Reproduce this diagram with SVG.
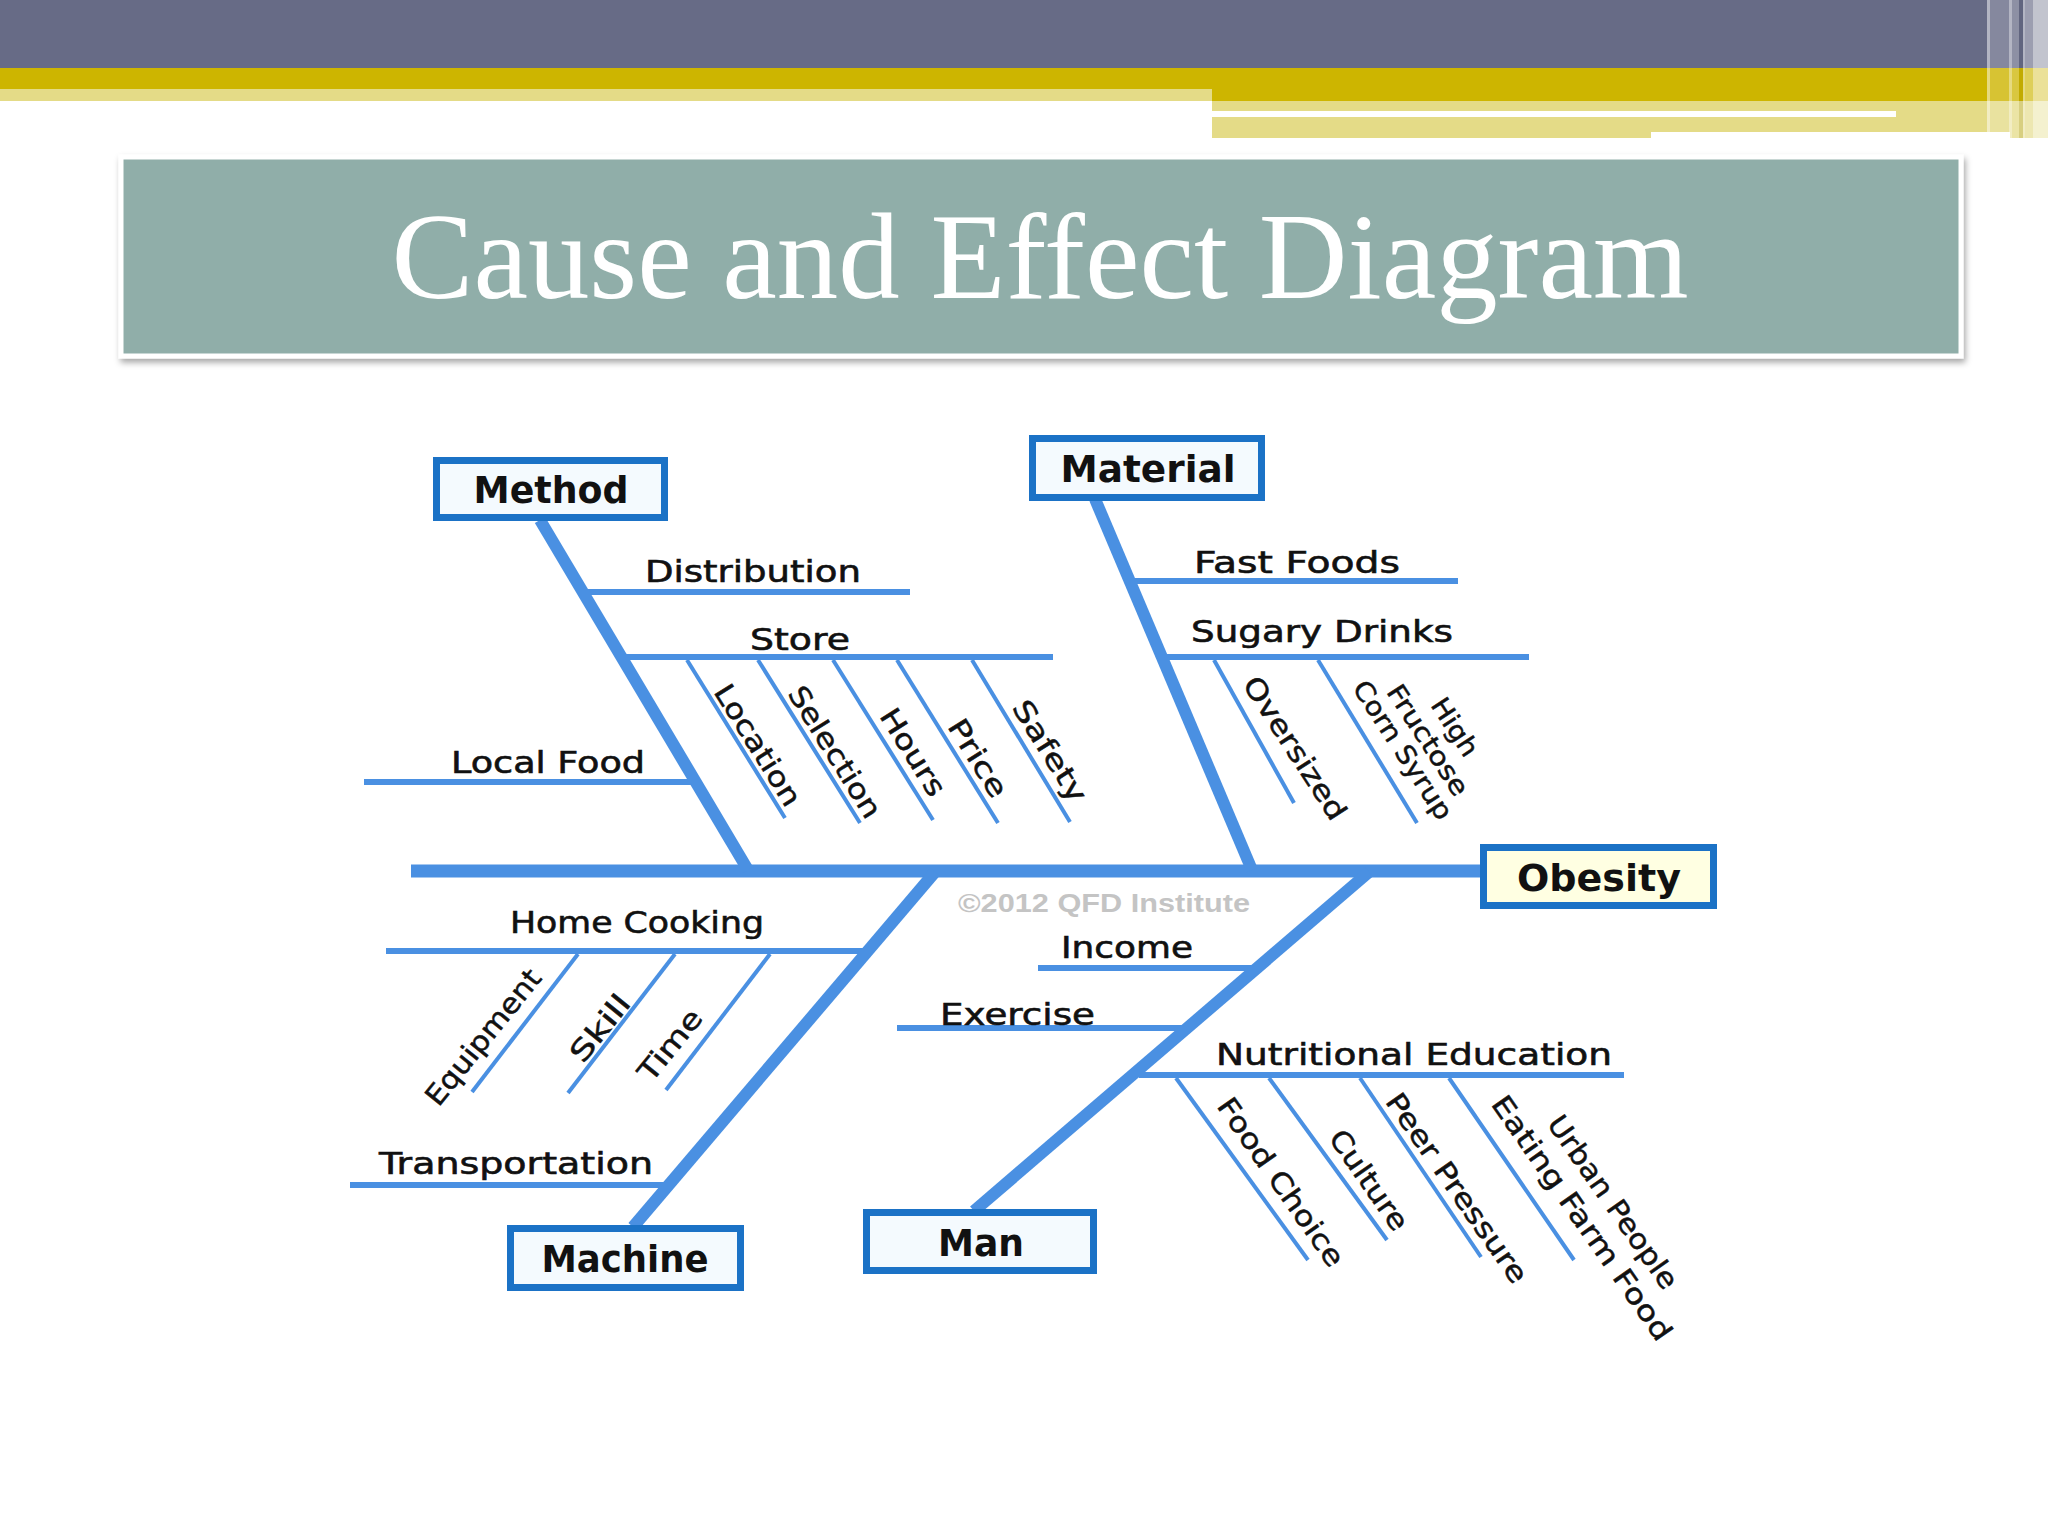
<svg xmlns="http://www.w3.org/2000/svg" width="2048" height="1536" viewBox="0 0 2048 1536">
<defs>
<style>
.bone{stroke:#4A90E2;fill:none;stroke-linecap:butt}
.spine{stroke-width:13}
.main{stroke-width:12}
.sub{stroke-width:6}
.twig{stroke-width:4}
.box{fill:#F4FAFE;stroke:#1B72C6;stroke-width:7}
.boxy{fill:#FFFFE2;stroke:#1B72C6;stroke-width:7}
.bl{font-family:"DejaVu Sans","Liberation Sans",sans-serif;font-weight:bold;font-size:38px;fill:#111;text-anchor:middle}
.l{font-family:"DejaVu Sans","Liberation Sans",sans-serif;font-size:30px;fill:#111;stroke:#111;stroke-width:0.6}
.r{font-family:"DejaVu Sans","Liberation Sans",sans-serif;font-size:28px;fill:#111;stroke:#111;stroke-width:0.5;text-anchor:middle}
.rs{font-size:26px}
</style>
<filter id="sh" x="-5%" y="-20%" width="110%" height="140%">
<feDropShadow dx="2" dy="4" stdDeviation="3" flood-color="#000" flood-opacity="0.35"/>
</filter>
</defs>
<rect width="2048" height="1536" fill="#FFFFFF"/>
<g id="header">
<rect x="0" y="0" width="2048" height="68" fill="#676B86"/>
<rect x="0" y="68" width="2048" height="21" fill="#CDB500"/>
<rect x="0" y="89" width="1212" height="12" fill="#E4DB87"/>
<rect x="1212" y="89" width="836" height="12" fill="#CDB500"/>
<rect x="1212" y="101" width="836" height="31" fill="#E4DB87"/>
<rect x="1212" y="132" width="439" height="6" fill="#E4DB87"/>
<rect x="2010" y="132" width="38" height="6" fill="#E4DB87"/>
<rect x="1212" y="111" width="684" height="6" fill="#FFFFFF"/>
<rect x="1987" y="0" width="3" height="138" fill="#FFFFFF" opacity="0.5"/>
<rect x="1990" y="0" width="19" height="138" fill="#FFFFFF" opacity="0.2"/>
<rect x="2009" y="0" width="3" height="138" fill="#FFFFFF" opacity="0.5"/>
<rect x="2012" y="0" width="7" height="138" fill="#FFFFFF" opacity="0.25"/>
<rect x="2019" y="0" width="4" height="138" fill="#000000" opacity="0.05"/>
<rect x="2023" y="0" width="2" height="138" fill="#FFFFFF" opacity="0.5"/>
<rect x="2025" y="0" width="8" height="138" fill="#FFFFFF" opacity="0.35"/>
<rect x="2033" y="0" width="15" height="138" fill="#FFFFFF" opacity="0.6"/>
</g>
<g id="title">
<rect x="121" y="157" width="1840" height="199" fill="#90AEA9" stroke="#FFFFFF" stroke-width="5" filter="url(#sh)"/>
<text x="1040" y="298" font-family="'Liberation Serif','DejaVu Serif',serif" font-size="122" fill="#FFFFFF" text-anchor="middle" textLength="1297" lengthAdjust="spacingAndGlyphs">Cause and Effect Diagram</text>
</g>
<g id="connectors">
<line class="bone spine" x1="411" y1="871" x2="1484" y2="871"/>
<line class="bone main" x1="540" y1="520" x2="748" y2="870"/>
<line class="bone main" x1="1095" y1="499" x2="1252" y2="870"/>
<line class="bone main" x1="935" y1="872" x2="633" y2="1227"/>
<line class="bone main" x1="1369" y1="872" x2="974" y2="1211"/>
<line class="bone sub" x1="583" y1="592" x2="910" y2="592"/>
<line class="bone sub" x1="624" y1="657" x2="1053" y2="657"/>
<line class="bone sub" x1="364" y1="782" x2="695" y2="782"/>
<line class="bone sub" x1="1134" y1="581" x2="1458" y2="581"/>
<line class="bone sub" x1="1166" y1="657" x2="1529" y2="657"/>
<line class="bone sub" x1="386" y1="951" x2="871" y2="951"/>
<line class="bone sub" x1="350" y1="1185" x2="665" y2="1185"/>
<line class="bone sub" x1="1038" y1="968" x2="1263" y2="968"/>
<line class="bone sub" x1="897" y1="1028" x2="1188" y2="1028"/>
<line class="bone sub" x1="1139" y1="1075" x2="1624" y2="1075"/>
<line class="bone twig" x1="687" y1="660" x2="785" y2="818"/>
<line class="bone twig" x1="758" y1="660" x2="860" y2="823"/>
<line class="bone twig" x1="833" y1="660" x2="933" y2="820"/>
<line class="bone twig" x1="897" y1="660" x2="998" y2="823"/>
<line class="bone twig" x1="972" y1="660" x2="1070" y2="822"/>
<line class="bone twig" x1="1214" y1="660" x2="1294" y2="803"/>
<line class="bone twig" x1="1318" y1="660" x2="1417" y2="823"/>
<line class="bone twig" x1="578" y1="954" x2="472" y2="1092"/>
<line class="bone twig" x1="675" y1="954" x2="568" y2="1093"/>
<line class="bone twig" x1="770" y1="954" x2="666" y2="1090"/>
<line class="bone twig" x1="1176" y1="1078" x2="1308" y2="1260"/>
<line class="bone twig" x1="1269" y1="1078" x2="1387" y2="1240"/>
<line class="bone twig" x1="1360" y1="1078" x2="1481" y2="1257"/>
<line class="bone twig" x1="1449" y1="1078" x2="1574" y2="1260"/>
</g>
<g id="node-method">
<rect class="box" x="436.5" y="460.5" width="228" height="57"/>
<text class="bl" x="551" y="503" textLength="155" lengthAdjust="spacingAndGlyphs">Method</text>
</g>
<g id="node-material">
<rect class="box" x="1032.5" y="438.5" width="229" height="59"/>
<text class="bl" x="1148" y="482" textLength="175" lengthAdjust="spacingAndGlyphs">Material</text>
</g>
<g id="node-obesity">
<rect class="boxy" x="1483.5" y="847.5" width="230" height="58"/>
<text class="bl" x="1599" y="891" textLength="164" lengthAdjust="spacingAndGlyphs">Obesity</text>
</g>
<g id="node-machine">
<rect class="box" x="510.5" y="1228.5" width="230" height="59"/>
<text class="bl" x="625" y="1272" textLength="167" lengthAdjust="spacingAndGlyphs">Machine</text>
</g>
<g id="node-man">
<rect class="box" x="866.5" y="1212.5" width="227" height="58"/>
<text class="bl" x="981" y="1256" textLength="86" lengthAdjust="spacingAndGlyphs">Man</text>
</g>
<g id="method-causes">
<text class="l" x="645" y="582" textLength="216" lengthAdjust="spacingAndGlyphs">Distribution</text>
<text class="l" x="750" y="650" textLength="100" lengthAdjust="spacingAndGlyphs">Store</text>
<text class="l" x="451" y="773" textLength="194" lengthAdjust="spacingAndGlyphs">Local Food</text>
<text class="r" transform="translate(758 745) rotate(58)" dy="0.35em" textLength="138" lengthAdjust="spacingAndGlyphs">Location</text>
<text class="r" transform="translate(835 752) rotate(58)" dy="0.35em" textLength="150" lengthAdjust="spacingAndGlyphs">Selection</text>
<text class="r" transform="translate(913 752) rotate(58)" dy="0.35em" textLength="98" lengthAdjust="spacingAndGlyphs">Hours</text>
<text class="r" transform="translate(978 758) rotate(58)" dy="0.35em" textLength="87" lengthAdjust="spacingAndGlyphs">Price</text>
<text class="r" transform="translate(1050 751) rotate(58)" dy="0.35em" textLength="115" lengthAdjust="spacingAndGlyphs">Safety</text>
</g>
<g id="material-causes">
<text class="l" x="1194" y="573" textLength="206" lengthAdjust="spacingAndGlyphs">Fast Foods</text>
<text class="l" x="1191" y="642" textLength="262" lengthAdjust="spacingAndGlyphs">Sugary Drinks</text>
<text class="r" transform="translate(1295 748) rotate(57)" dy="0.35em" textLength="165" lengthAdjust="spacingAndGlyphs">Oversized</text>
<text class="r rs" transform="translate(1455 727) rotate(57)" dy="0.35em" textLength="64" lengthAdjust="spacingAndGlyphs">High</text>
<text class="r rs" transform="translate(1428 740) rotate(57)" dy="0.35em" textLength="127" lengthAdjust="spacingAndGlyphs">Fructose</text>
<text class="r rs" transform="translate(1403 750) rotate(57)" dy="0.35em" textLength="160" lengthAdjust="spacingAndGlyphs">Corn Syrup</text>
</g>
<g id="machine-causes">
<text class="l" x="510" y="933" textLength="254" lengthAdjust="spacingAndGlyphs">Home Cooking</text>
<text class="l" x="379" y="1174" textLength="274" lengthAdjust="spacingAndGlyphs">Transportation</text>
<text class="r" transform="translate(483 1037) rotate(-51)" dy="0.35em" textLength="166" lengthAdjust="spacingAndGlyphs">Equipment</text>
<text class="r" transform="translate(600 1028) rotate(-51)" dy="0.35em" textLength="78" lengthAdjust="spacingAndGlyphs">Skill</text>
<text class="r" transform="translate(670 1045) rotate(-51)" dy="0.35em" textLength="84" lengthAdjust="spacingAndGlyphs">Time</text>
</g>
<g id="man-causes">
<text class="l" x="1061" y="958" textLength="132" lengthAdjust="spacingAndGlyphs">Income</text>
<text class="l" x="940" y="1025" textLength="155" lengthAdjust="spacingAndGlyphs">Exercise</text>
<text class="l" x="1216" y="1065" textLength="396" lengthAdjust="spacingAndGlyphs">Nutritional Education</text>
<text class="r" transform="translate(1281 1182) rotate(55)" dy="0.35em" textLength="199" lengthAdjust="spacingAndGlyphs">Food Choice</text>
<text class="r" transform="translate(1369 1180) rotate(55)" dy="0.35em" textLength="116" lengthAdjust="spacingAndGlyphs">Culture</text>
<text class="r" transform="translate(1457 1188) rotate(55)" dy="0.35em" textLength="225" lengthAdjust="spacingAndGlyphs">Peer Pressure</text>
<text class="r" transform="translate(1613 1202) rotate(55)" dy="0.35em" textLength="205" lengthAdjust="spacingAndGlyphs">Urban People</text>
<text class="r" transform="translate(1582 1218) rotate(55)" dy="0.35em" textLength="292" lengthAdjust="spacingAndGlyphs">Eating Farm Food</text>
</g>
<text x="958" y="912" font-family="'Liberation Sans',Arial,sans-serif" font-weight="bold" font-size="26" fill="#C4C4C4" textLength="292" lengthAdjust="spacingAndGlyphs">©2012 QFD Institute</text>
</svg>
